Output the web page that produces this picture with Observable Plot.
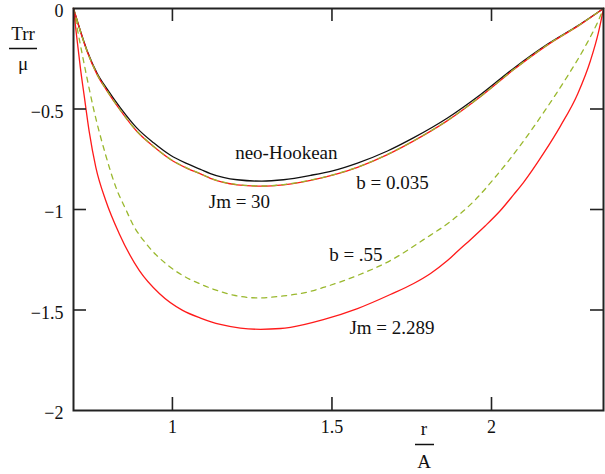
<!DOCTYPE html>
<html><head><meta charset="utf-8">
<script src="https://cdn.jsdelivr.net/npm/d3@7"></script>
<script src="https://cdn.jsdelivr.net/npm/@observablehq/plot@0.6"></script>
<style>
body{margin:0;background:#fff}
#chart{position:relative;width:605px;height:474px}
</style>
</head><body><div id="chart"></div>
<script>
// r/A sample points and Trr/mu values
const xNeo   = [0.690, 0.733, 0.764, 0.795, 0.837, 0.889, 0.941, 0.994, 1.046, 1.088, 1.119, 1.203, 1.280, 1.348, 1.433, 1.505, 1.580, 1.674, 1.755, 1.862, 1.966, 2.069, 2.176, 2.279, 2.351];
const yNeo   = [0, -0.211, -0.322, -0.400, -0.494, -0.595, -0.668, -0.730, -0.772, -0.800, -0.821, -0.852, -0.859, -0.852, -0.830, -0.806, -0.769, -0.709, -0.644, -0.545, -0.428, -0.298, -0.177, -0.077, 0];
const yJm30  = [0, -0.215, -0.329, -0.410, -0.507, -0.612, -0.687, -0.751, -0.795, -0.823, -0.845, -0.877, -0.884, -0.877, -0.855, -0.828, -0.790, -0.727, -0.660, -0.558, -0.438, -0.305, -0.181, -0.079, 0];
const yB035  = [0, -0.214, -0.328, -0.409, -0.506, -0.611, -0.686, -0.750, -0.794, -0.822, -0.844, -0.876, -0.883, -0.876, -0.854, -0.827, -0.789, -0.726, -0.659, -0.557, -0.437, -0.304, -0.180, -0.078, 0];

const xB55   = [0.690, 0.703, 0.729, 0.753, 0.791, 0.823, 0.854, 0.878, 0.917, 0.979, 1.032, 1.088, 1.119, 1.191, 1.266, 1.348, 1.433, 1.473, 1.580, 1.683, 1.787, 1.871, 1.944, 2.019, 2.091, 2.163, 2.232, 2.295, 2.335, 2.351];
const yB55   = [0, -0.11, -0.32, -0.50, -0.73, -0.89, -1.00, -1.08, -1.169, -1.269, -1.328, -1.371, -1.391, -1.426, -1.440, -1.430, -1.407, -1.388, -1.328, -1.254, -1.150, -1.060, -0.960, -0.825, -0.680, -0.518, -0.352, -0.185, -0.060, 0];

const xJm2   = [0.690, 0.700, 0.712, 0.724, 0.739, 0.760, 0.791, 0.833, 0.896, 0.959, 1.032, 1.088, 1.150, 1.213, 1.276, 1.339, 1.370, 1.473, 1.580, 1.683, 1.756, 1.809, 1.862, 1.903, 1.934, 1.980, 2.028, 2.070, 2.100, 2.163, 2.216, 2.270, 2.310, 2.335, 2.351];
const yJm2   = [0, -0.14, -0.30, -0.44, -0.61, -0.79, -0.955, -1.119, -1.303, -1.418, -1.502, -1.540, -1.572, -1.590, -1.596, -1.592, -1.586, -1.548, -1.493, -1.423, -1.368, -1.318, -1.254, -1.194, -1.150, -1.082, -1.005, -0.925, -0.866, -0.721, -0.585, -0.425, -0.26, -0.12, 0];

const xTicks = [1, 1.5, 2];
const yTicks = [0, -0.5, -1, -1.5, -2];
const yInner = [-0.5, -1, -1.5];

const labels = ["neo-Hookean", "Jm = 30", "b = 0.035", "b = .55", "Jm = 2.289"];
const yLabelTop = "Trr", yLabelBottom = "μ", xLabelTop = "r", xLabelBottom = "A";

const toRows = (xs, ys) => xs.map((x, i) => ({x, y: ys[i]}));
const fmt = d => d === 0 ? "0" : (d < 0 ? "\u2212" : "") + Math.abs(d);

const RED = "#ff1a1a", GREEN = "#9ab82e", AX = "#222";

const chart = Plot.plot({
  width: 605, height: 474,
  marginLeft: 73, marginRight: 2, marginTop: 8, marginBottom: 64,
  style: {fontFamily: "'Liberation Serif', 'DejaVu Serif', serif", fontSize: "18px", color: "#111", background: "#fff"},
  x: {domain: [0.690, 2.351]},
  y: {domain: [-2, 0]},
  marks: [
    Plot.axisX({ticks: xTicks, tickSize: 0, tickPadding: 10, label: null, tickFormat: fmt}),
    Plot.axisY({ticks: yTicks, tickSize: 0, tickPadding: 10, label: null, tickFormat: fmt, dy: 3}),
    Plot.line(toRows(xNeo, yNeo), {x: "x", y: "y", stroke: "#111", strokeWidth: 1.3, curve: "monotone-x"}),
    Plot.line(toRows(xNeo, yJm30), {x: "x", y: "y", stroke: RED, strokeWidth: 1.3, curve: "monotone-x"}),
    Plot.line(toRows(xNeo, yB035), {x: "x", y: "y", stroke: GREEN, strokeWidth: 1.3, strokeDasharray: "5,5", curve: "monotone-x"}),
    Plot.line(toRows(xB55, yB55), {x: "x", y: "y", stroke: GREEN, strokeWidth: 1.3, strokeDasharray: "5,5", curve: "monotone-x"}),
    Plot.line(toRows(xJm2, yJm2), {x: "x", y: "y", stroke: RED, strokeWidth: 1.3, curve: "monotone-x"}),
    Plot.frame({stroke: AX, strokeWidth: 2}),
    Plot.tickX(xTicks, {x: d => d, stroke: AX, strokeWidth: 1.6, insetTop: 389}),
    Plot.tickX(xTicks, {x: d => d, stroke: AX, strokeWidth: 1.6, insetBottom: 389}),
    Plot.tickY(yInner, {y: d => d, stroke: AX, strokeWidth: 1.6, insetRight: 517}),
    Plot.tickY(yInner, {y: d => d, stroke: AX, strokeWidth: 1.6, insetLeft: 517}),
    Plot.text([labels[0]], {x: 1.357, y: -0.716, text: d => d, fontSize: 19, fill: "#111"}),
    Plot.text([labels[1]], {x: 1.210, y: -0.960, text: d => d, fontSize: 19, fill: "#111"}),
    Plot.text([labels[2]], {x: 1.690, y: -0.866, text: d => d, fontSize: 19, fill: "#111"}),
    Plot.text([labels[3]], {x: 1.575, y: -1.224, text: d => d, fontSize: 19, fill: "#111"}),
    Plot.text([labels[4]], {x: 1.688, y: -1.587, text: d => d, fontSize: 19, fill: "#111"})
  ]
});
document.getElementById("chart").appendChild(chart);

// fraction-style axis titles
const svg = d3.select(chart);
const g = svg.append("g").attr("font-family", "'Liberation Serif', serif").attr("font-size", 19).attr("fill", "#111").attr("text-anchor", "middle");
g.append("text").attr("x", 23).attr("y", 40).text(yLabelTop);
g.append("line").attr("x1", 9).attr("x2", 37).attr("y1", 48.5).attr("y2", 48.5).attr("stroke", "#111").attr("stroke-width", 1.5);
g.append("text").attr("x", 23).attr("y", 70).text(yLabelBottom);
g.append("text").attr("x", 424).attr("y", 435).text(xLabelTop);
g.append("line").attr("x1", 415).attr("x2", 434).attr("y1", 444.5).attr("y2", 444.5).attr("stroke", "#111").attr("stroke-width", 1.5);
g.append("text").attr("x", 424).attr("y", 468).text(xLabelBottom);
</script>
</body></html>
